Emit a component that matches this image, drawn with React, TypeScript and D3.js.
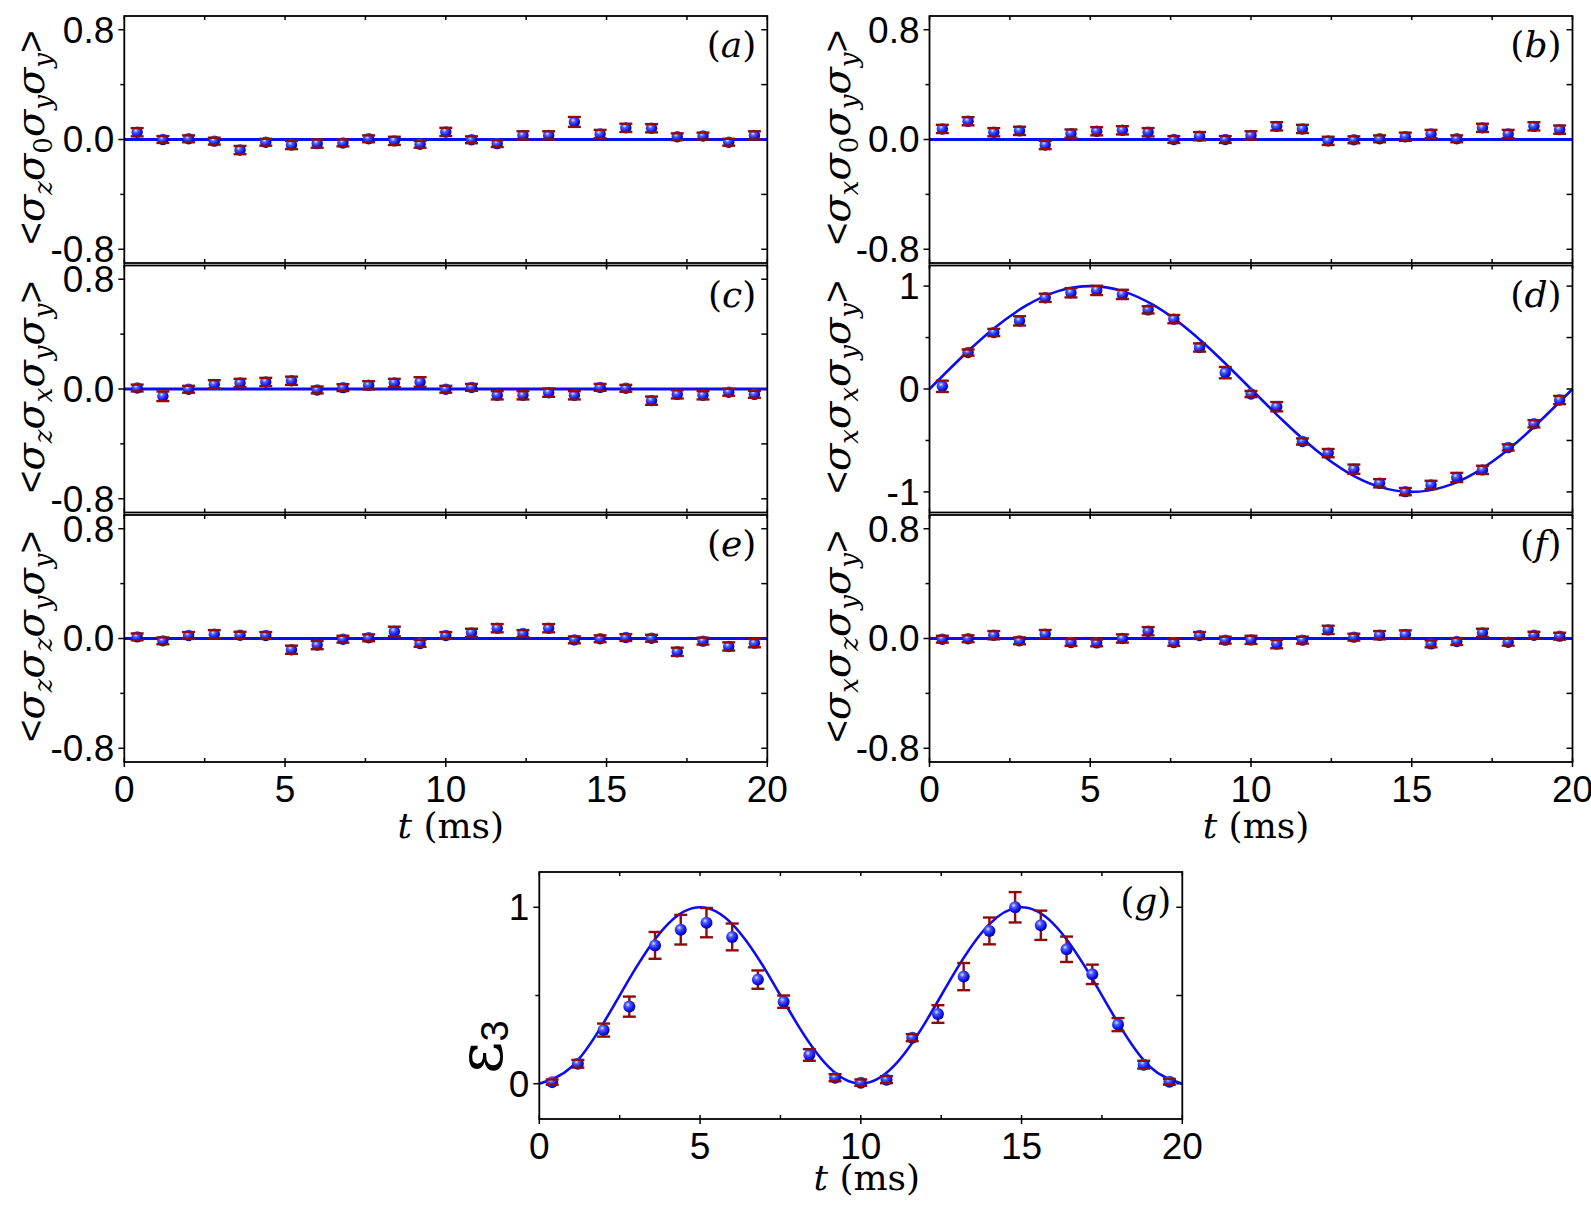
import React from 'react';
import * as d3 from 'd3';

// sampling times (ms)
const times = [0.4, 1.2, 2.0, 2.8, 3.6, 4.4, 5.2, 6.0, 6.8, 7.6, 8.4, 9.2, 10.0, 10.8, 11.6, 12.4, 13.2, 14.0, 14.8, 15.6, 16.4, 17.2, 18.0, 18.8, 19.6];

const valuesA = [0.053, 0.0, 0.005, -0.012, -0.077, -0.02, -0.04, -0.03, -0.025, 0.005, -0.01, -0.035, 0.055, -0.002, -0.03, 0.03, 0.03, 0.128, 0.04, 0.085, 0.082, 0.02, 0.025, -0.02, 0.03];
const errorsA = [0.03, 0.025, 0.025, 0.025, 0.03, 0.025, 0.03, 0.03, 0.025, 0.025, 0.03, 0.025, 0.03, 0.025, 0.025, 0.03, 0.03, 0.036, 0.03, 0.03, 0.03, 0.025, 0.025, 0.025, 0.03];

const valuesB = [0.077, 0.133, 0.053, 0.063, -0.04, 0.043, 0.06, 0.067, 0.053, 0.0, 0.024, 0.0, 0.03, 0.096, 0.077, -0.01, -0.002, 0.005, 0.02, 0.04, 0.005, 0.085, 0.04, 0.096, 0.072];
const errorsB = [0.03, 0.03, 0.03, 0.03, 0.03, 0.03, 0.03, 0.03, 0.03, 0.025, 0.03, 0.025, 0.03, 0.03, 0.03, 0.03, 0.025, 0.025, 0.03, 0.03, 0.025, 0.03, 0.03, 0.03, 0.03];

const valuesC = [0.007, -0.053, -0.002, 0.034, 0.044, 0.051, 0.06, -0.007, 0.01, 0.027, 0.044, 0.051, -0.002, 0.012, -0.046, -0.046, -0.027, -0.046, 0.012, 0.005, -0.085, -0.039, -0.046, -0.024, -0.039];
const errorsC = [0.025, 0.035, 0.025, 0.03, 0.03, 0.03, 0.03, 0.025, 0.025, 0.03, 0.03, 0.035, 0.025, 0.025, 0.03, 0.03, 0.03, 0.03, 0.025, 0.025, 0.03, 0.03, 0.03, 0.025, 0.025];

const valuesD = [0.026, 0.354, 0.549, 0.662, 0.886, 0.935, 0.958, 0.919, 0.769, 0.679, 0.403, 0.159, -0.049, -0.172, -0.51, -0.623, -0.779, -0.916, -0.997, -0.932, -0.86, -0.786, -0.568, -0.338, -0.107];
const errorsD = [0.055, 0.03, 0.035, 0.045, 0.04, 0.045, 0.045, 0.045, 0.035, 0.04, 0.04, 0.055, 0.03, 0.045, 0.03, 0.04, 0.045, 0.04, 0.035, 0.04, 0.045, 0.04, 0.03, 0.035, 0.04];

const valuesE = [0.012, -0.017, 0.022, 0.031, 0.024, 0.022, -0.082, -0.048, -0.005, 0.005, 0.051, -0.036, 0.022, 0.041, 0.075, 0.036, 0.075, -0.01, -0.002, 0.007, 0.002, -0.097, -0.019, -0.058, -0.034];
const errorsE = [0.025, 0.025, 0.025, 0.03, 0.025, 0.025, 0.03, 0.03, 0.025, 0.025, 0.035, 0.025, 0.025, 0.03, 0.03, 0.025, 0.03, 0.025, 0.025, 0.025, 0.025, 0.03, 0.025, 0.03, 0.03];

const valuesF = [-0.005, -0.002, 0.024, -0.017, 0.032, -0.029, -0.032, 0.0, 0.053, -0.029, 0.022, -0.012, -0.01, -0.041, -0.012, 0.063, 0.01, 0.024, 0.029, -0.039, -0.022, 0.041, -0.027, 0.024, 0.017];
const errorsF = [0.025, 0.025, 0.03, 0.025, 0.03, 0.025, 0.025, 0.03, 0.03, 0.025, 0.025, 0.025, 0.03, 0.03, 0.025, 0.03, 0.025, 0.03, 0.03, 0.025, 0.025, 0.03, 0.025, 0.025, 0.025];

const valuesG = [0.009, 0.113, 0.304, 0.437, 0.784, 0.873, 0.913, 0.832, 0.59, 0.465, 0.163, 0.034, 0.006, 0.023, 0.261, 0.395, 0.607, 0.866, 1.0, 0.898, 0.762, 0.62, 0.335, 0.108, 0.011];
const errorsG = [0.015, 0.022, 0.037, 0.057, 0.076, 0.084, 0.083, 0.076, 0.052, 0.035, 0.033, 0.02, 0.018, 0.02, 0.02, 0.05, 0.077, 0.076, 0.086, 0.083, 0.072, 0.055, 0.037, 0.022, 0.016];

// theory curves
const fitFlatTimes = [0, 20];
const fitFlat = [0, 0];
const fitTimes = [0, 1, 2, 3, 4, 5, 6, 7, 8, 9, 10, 11, 12, 13, 14, 15, 16, 17, 18, 19, 20];
const fitD = [0, 0.309, 0.588, 0.809, 0.951, 1, 0.951, 0.809, 0.588, 0.309, 0, -0.309, -0.588, -0.809, -0.951, -1, -0.951, -0.809, -0.588, -0.309, 0];
const fitG = [0, 0.095, 0.345, 0.655, 0.905, 1, 0.905, 0.655, 0.345, 0.095, 0, 0.095, 0.345, 0.655, 0.905, 1, 0.905, 0.655, 0.345, 0.095, 0];

// axes
const xMajor = [0, 5, 10, 15, 20];
const xMinor = [2.5, 7.5, 12.5, 17.5];
const xTickLabels = ['0', '5', '10', '15', '20'];
const flatTicks = [0.8, 0, -0.8];
const flatTickLabels = ['0.8', '0.0', '-0.8'];
const flatMinor = [0.4, -0.4];
const dTicks = [1, 0, -1];
const dTickLabels = ['1', '0', '-1'];
const dMinor = [0.5, -0.5];
const gTicks = [1, 0];
const gTickLabels = ['1', '0'];
const gMinor = [0.5];

const SANS = '"Liberation Sans", Arial, sans-serif';
const SERIF = '"DejaVu Serif", serif';
const BLUE = '#0c0cf2';
const RED = '#8e0b0b';
const TICK_FONT = 37;

const W = 643;
const H = 247;
const COL1 = 124.3;
const COL2 = 929.5;
const ROWS = [16, 265.5, 515];

interface PanelProps {
  x0: number;
  y0: number;
  domain: [number, number];
  ticks: number[];
  tickLabels: string[];
  minor: number[];
  values: number[];
  errors: number[];
  fitT: number[];
  fitV: number[];
  letter: string;
  subs?: string[];
  xLabels?: boolean;
  radius?: number;
  lineWidth?: number;
}

const YLabel: React.FC<{ x: number; y: number; subs: string[] }> = ({ x, y, subs }) => (
  <text transform={`translate(${x},${y}) rotate(-90)`} textAnchor="middle" fill="#000">
    <tspan fontFamily={SANS} fontSize={39}>{'<'}</tspan>
    {subs.map((s, i) => (
      <React.Fragment key={i}>
        <tspan fontFamily={SERIF} fontStyle="italic" fontSize={40} dy={i === 0 ? 0 : -8}>σ</tspan>
        <tspan fontFamily={SERIF} fontStyle={s === '0' ? 'normal' : 'italic'} fontSize={26} dy={8}>{s}</tspan>
      </React.Fragment>
    ))}
    <tspan fontFamily={SANS} fontSize={39} dy={-8}>{'>'}</tspan>
  </text>
);

const Panel: React.FC<PanelProps> = (p) => {
  const x = d3.scaleLinear().domain([0, 20]).range([p.x0, p.x0 + W]);
  const y = d3.scaleLinear().domain(p.domain).range([p.y0 + H, p.y0]);
  const r = p.radius ?? 5.7;
  const line = d3.line<number>()
    .x((_, i) => x(p.fitT[i]))
    .y((d) => y(d))
    .curve(d3.curveNatural);
  const cap = 6.5;
  const bottom = p.y0 + H;
  const right = p.x0 + W;

  return (
    <g>
      {/* ticks */}
      {xMajor.concat(xMinor).map((t) => (
        <g key={'xt' + t}>
          <line x1={x(t)} x2={x(t)} y1={p.y0} y2={p.y0 + 4} stroke="#000" strokeWidth={1.5} />
          <line x1={x(t)} x2={x(t)} y1={bottom - 4} y2={bottom + (xMajor.includes(t) ? 5 : 0)} stroke="#000" strokeWidth={1.5} />
        </g>
      ))}
      {p.ticks.concat(p.minor).map((v) => (
        <g key={'yt' + v}>
          <line x1={p.x0 - (p.ticks.includes(v) ? 6 : 4)} x2={p.x0} y1={y(v)} y2={y(v)} stroke="#000" strokeWidth={1.5} />
          <line x1={right - 6} x2={right} y1={y(v)} y2={y(v)} stroke="#000" strokeWidth={1.5} />
        </g>
      ))}
      {p.ticks.map((v, i) => (
        <text key={'yl' + v} x={p.x0 - 10} y={y(v)} dy="0.35em" textAnchor="end"
          fontFamily={SANS} fontSize={TICK_FONT}>{p.tickLabels[i]}</text>
      ))}
      {p.xLabels && xMajor.map((t, i) => (
        <text key={'xl' + t} x={x(t)} y={bottom + 40} textAnchor="middle"
          fontFamily={SANS} fontSize={TICK_FONT}>{xTickLabels[i]}</text>
      ))}

      {/* fit */}
      <path d={line(p.fitV) ?? ''} fill="none" stroke={BLUE} strokeWidth={p.lineWidth ?? 2.6} />

      {/* error bar stems, markers, caps */}
      {p.values.map((v, i) => (
        <line key={'es' + i} x1={x(times[i])} x2={x(times[i])} y1={y(v - p.errors[i])} y2={y(v + p.errors[i])}
          stroke={RED} strokeWidth={2.4} />
      ))}
      {p.values.map((v, i) => (
        <circle key={'m' + i} cx={x(times[i])} cy={y(v)} r={r} fill="url(#ball)" />
      ))}
      {p.values.map((v, i) => (
        <g key={'ec' + i} stroke={RED} strokeWidth={2.4}>
          <line x1={x(times[i]) - cap} x2={x(times[i]) + cap} y1={y(v - p.errors[i])} y2={y(v - p.errors[i])} />
          <line x1={x(times[i]) - cap} x2={x(times[i]) + cap} y1={y(v + p.errors[i])} y2={y(v + p.errors[i])} />
        </g>
      ))}

      {/* frame */}
      <rect x={p.x0} y={p.y0} width={W} height={H} fill="none" stroke="#000" strokeWidth={1.8} />

      <text x={right - 11} y={p.y0 + 41} textAnchor="end" fontFamily={SERIF} fontSize={36}>
        (<tspan fontStyle="italic">{p.letter}</tspan>)
      </text>
      {p.subs && <YLabel x={p.x0 - 80} y={p.y0 + H / 2 - 2} subs={p.subs} />}
    </g>
  );
};

const TimeLabel: React.FC<{ x: number; y: number }> = ({ x, y }) => (
  <text x={x} y={y} textAnchor="middle" fontFamily={SERIF} fontSize={36}>
    <tspan fontStyle="italic">t</tspan> (ms)
  </text>
);

const flat = { domain: [-0.9, 0.9] as [number, number], ticks: flatTicks, tickLabels: flatTickLabels, minor: flatMinor, fitT: fitFlatTimes, fitV: fitFlat, lineWidth: 3 };

const App: React.FC = () => {
  const gX = 539.3;
  const gY = 872;
  return (
    <svg width={1591} height={1208} style={{ position: 'absolute', left: 0, top: 0, background: '#fff' }}>
      <defs>
        <radialGradient id="ball" cx="0.38" cy="0.34" r="0.7">
          <stop offset="0" stopColor="#dfe6ff" />
          <stop offset="0.28" stopColor="#4c5cff" />
          <stop offset="0.7" stopColor="#1212e6" />
          <stop offset="1" stopColor="#00008c" />
        </radialGradient>
      </defs>
      <rect width={1591} height={1208} fill="#fff" />

      <Panel x0={COL1} y0={ROWS[0]} {...flat} values={valuesA} errors={errorsA} letter="a" subs={['z', '0', 'y', 'y']} />
      <Panel x0={COL2} y0={ROWS[0]} {...flat} values={valuesB} errors={errorsB} letter="b" subs={['x', '0', 'y', 'y']} />
      <Panel x0={COL1} y0={ROWS[1]} {...flat} values={valuesC} errors={errorsC} letter="c" subs={['z', 'x', 'y', 'y']} />
      <Panel x0={COL2} y0={ROWS[1]} domain={[-1.2, 1.2]} ticks={dTicks} tickLabels={dTickLabels} minor={dMinor}
        fitT={fitTimes} fitV={fitD} values={valuesD} errors={errorsD} letter="d" subs={['x', 'x', 'y', 'y']} />
      <Panel x0={COL1} y0={ROWS[2]} {...flat} values={valuesE} errors={errorsE} letter="e" subs={['z', 'z', 'y', 'y']} xLabels />
      <Panel x0={COL2} y0={ROWS[2]} {...flat} values={valuesF} errors={errorsF} letter="f" subs={['x', 'z', 'y', 'y']} xLabels />
      <TimeLabel x={COL1 + W / 2 + 5} y={838} />
      <TimeLabel x={COL2 + W / 2 + 5} y={838} />

      <Panel x0={gX} y0={gY} domain={[-0.2, 1.2]} ticks={gTicks} tickLabels={gTickLabels} minor={gMinor}
        fitT={fitTimes} fitV={fitG} values={valuesG} errors={errorsG} letter="g" xLabels radius={6} />
      <text transform={`translate(${gX - 37},${gY + 175}) rotate(-90)`} textAnchor="middle">
        <tspan fontFamily={SERIF} fontSize={62}>ε</tspan>
        <tspan fontFamily={SANS} fontSize={38} dy={6}>3</tspan>
      </text>
      <TimeLabel x={gX + W / 2 + 6} y={1190} />
    </svg>
  );
};

export default App;
